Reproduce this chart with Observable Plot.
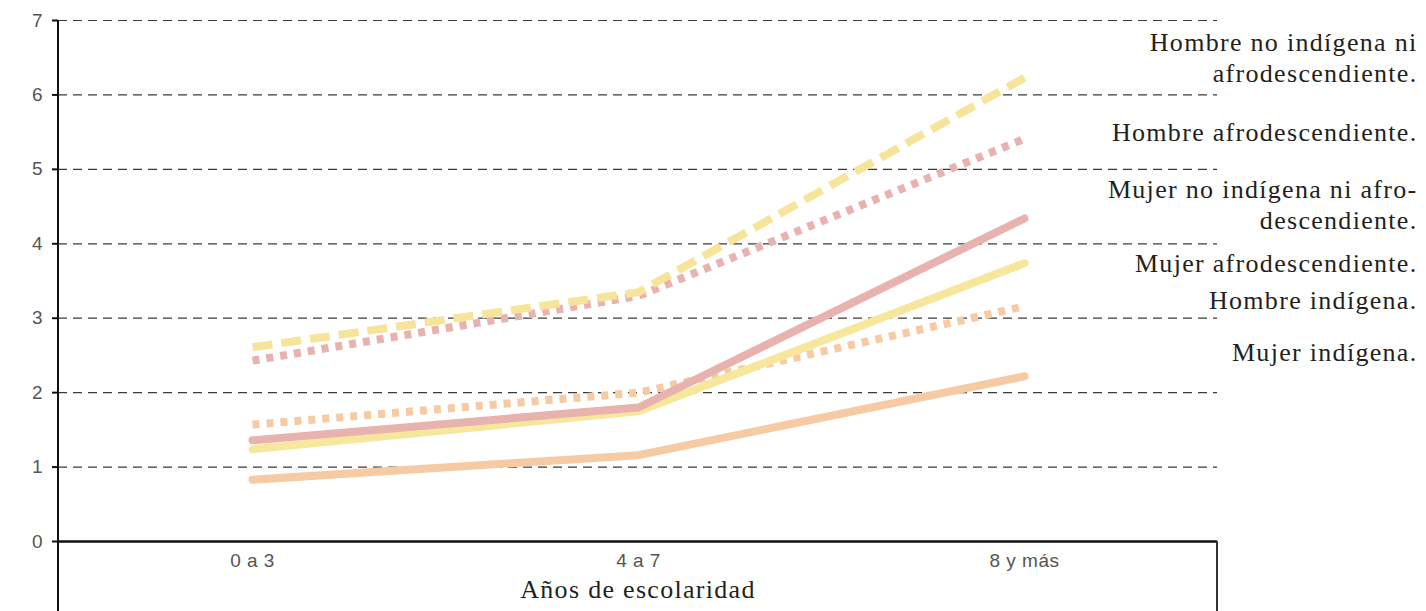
<!DOCTYPE html>
<html>
<head>
<meta charset="utf-8">
<script src="https://cdn.jsdelivr.net/npm/d3@7"></script>
<script src="https://cdn.jsdelivr.net/npm/@observablehq/plot@0.6"></script>
<style>
  html, body { margin: 0; padding: 0; background: #fff; }
  #chart svg { display: block; }
  .serif-label text { letter-spacing: 1.3px; }
</style>
</head>
<body>
<div id="chart"></div>
<script>
// Categories (x axis)
const categories = ["0 a 3", "4 a 7", "8 y más"];
// Series names
const seriesNames = [
  "Hombre no indígena ni afrodescendiente.",
  "Hombre afrodescendiente.",
  "Mujer no indígena ni afrodescendiente.",
  "Mujer afrodescendiente.",
  "Hombre indígena.",
  "Mujer indígena."
];
// Series values
const hombreNoIndigenaNiAfro = [2.61, 3.35, 6.23];
const hombreAfro = [2.43, 3.30, 5.41];
const mujerNoIndigenaNiAfro = [1.36, 1.80, 4.34];
const mujerAfro = [1.24, 1.75, 3.74];
const hombreIndigena = [1.57, 2.00, 3.16];
const mujerIndigena = [0.83, 1.16, 2.22];
// Y axis ticks
const yTicks = [0, 1, 2, 3, 4, 5, 6, 7];
// Right-side label texts
const labelTexts = [
  "Hombre no indígena ni\nafrodescendiente.",
  "Hombre afrodescendiente.",
  "Mujer no indígena ni afro-\ndescendiente.",
  "Mujer afrodescendiente.",
  "Hombre indígena.",
  "Mujer indígena."
];
const labelAt = [6.52, 5.52, 4.54, 3.76, 3.26, 2.56];

const allValues = [hombreNoIndigenaNiAfro, hombreAfro, mujerNoIndigenaNiAfro, mujerAfro, hombreIndigena, mujerIndigena];

// styles
const styles = [
  {stroke: "#f6e49a", dash: "20,9", cap: "butt"},
  {stroke: "#e8b2ae", dash: "7,7", cap: "butt"},
  {stroke: "#e8b2ae", dash: null, cap: "round"},
  {stroke: "#f6e79c", dash: null, cap: "round"},
  {stroke: "#f6cba3", dash: "7,7", cap: "butt"},
  {stroke: "#f6cba3", dash: null, cap: "round"}
];

const rows = seriesNames.map((name, i) => categories.map((c, j) => ({series: name, cat: c, value: allValues[i][j]})));
const labels = labelTexts.map((t, i) => ({text: t, y: labelAt[i]}));

const drawOrder = [5, 4, 3, 2, 1, 0];

const marks = [
  Plot.gridY(yTicks, {stroke: "#3a3a3a", strokeOpacity: 1, strokeWidth: 1.2, strokeDasharray: "9,6"}),
  Plot.axisY(yTicks, {tickSize: 6, tickPadding: 10, fill: "#555", stroke: "#111", strokeWidth: 2, tickFormat: d => d, label: null, className: "tick-y"}),
  Plot.axisX({tickSize: 0, tickPadding: 12, fill: "#555", label: null, className: "tick-x"}),
  ...drawOrder.map(i => Plot.line(rows[i], {
    x: "cat", y: "value",
    stroke: styles[i].stroke, strokeWidth: 8,
    strokeDasharray: styles[i].dash,
    strokeLinecap: styles[i].cap, strokeLinejoin: "round"
  })),
  Plot.ruleY([0], {stroke: "#111", strokeWidth: 2.5}),
  Plot.text(["Años de escolaridad"], {frameAnchor: "bottom", dy: 56, fontSize: 26, fontFamily: "Liberation Serif, serif", fill: "#231f20", className: "serif-label"}),
  Plot.text(labels, {y: "y", text: "text", frameAnchor: "right", dx: 200, textAnchor: "end", fontSize: 26, lineHeight: 1.19, fontFamily: "Liberation Serif, serif", fill: "#231f20", className: "serif-label"})
];

const chart = Plot.plot({
  width: 1426,
  height: 611,
  marginLeft: 58,
  marginRight: 209,
  marginTop: 20,
  marginBottom: 70,
  x: {type: "point", domain: categories, padding: 0.5},
  y: {domain: [0, 7]},
  style: {background: "#fff", overflow: "visible", fontFamily: "Liberation Sans, Arial, sans-serif"},
  marks
});

const svg = d3.select(chart);
// tick label fonts (all non-serif text)
svg.selectAll("text").each(function() {
  if (!this.closest(".serif-label")) {
    this.style.fontSize = "19px";
    this.style.fontFamily = "Liberation Sans, Arial, sans-serif";
    if (this.closest(".tick-x")) this.style.letterSpacing = "0.5px";
  }
});

// extend frame lines below the baseline (left axis line and right edge)
const ys = chart.scale("y");
const y0 = ys.apply(0), y7 = ys.apply(7);
svg.append("line").attr("x1", 58).attr("x2", 58).attr("y1", y7).attr("y2", 611).attr("stroke", "#111").attr("stroke-width", 2);
svg.append("line").attr("x1", 1426 - 209).attr("x2", 1426 - 209).attr("y1", y0).attr("y2", 611).attr("stroke", "#333").attr("stroke-width", 2);

document.getElementById("chart").append(chart);
</script>
</body>
</html>
